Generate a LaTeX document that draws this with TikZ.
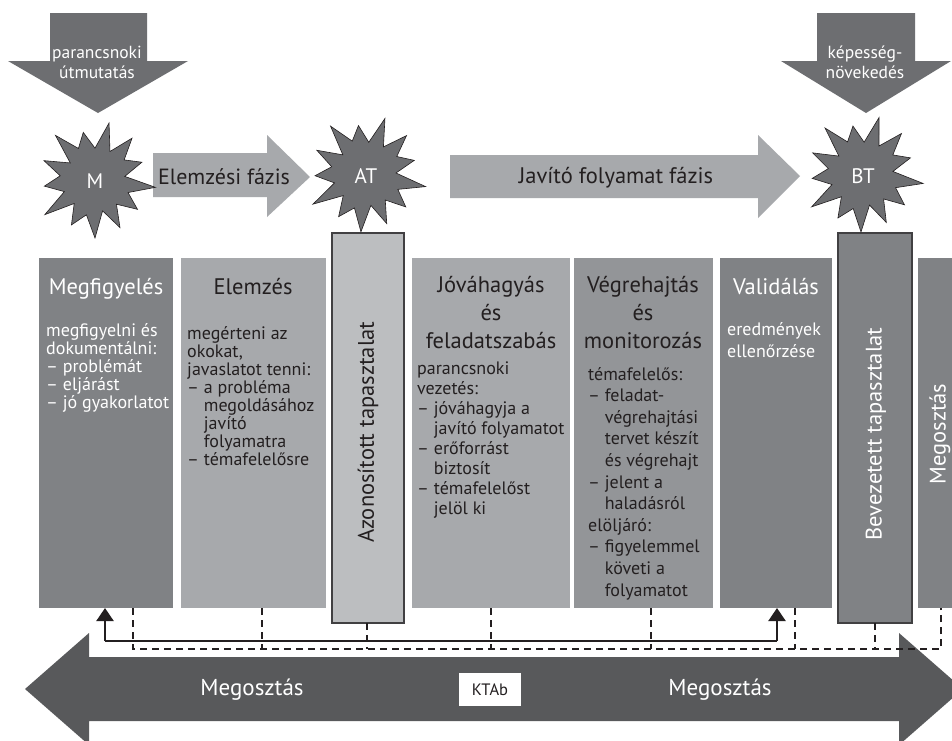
\documentclass[tikz,border=0pt]{standalone}
\usepackage{fontspec}
\setmainfont{PT Sans}
\usetikzlibrary{arrows.meta,calc}
\definecolor{cdark}{HTML}{808285}
\definecolor{clight}{HTML}{A7A9AC}
\definecolor{cpale}{HTML}{BCBEC0}
\definecolor{cmid}{HTML}{939598}
\definecolor{cstar}{HTML}{6D6E71}
\definecolor{cband}{HTML}{58595B}
\definecolor{ink}{HTML}{231F20}
\definecolor{edge}{HTML}{414042}
\begin{document}
\begin{tikzpicture}[x=1pt,y=-1pt,
  colbox/.style={inner sep=0pt,outer sep=0pt,anchor=north west,draw=none},
  tapbox/.style={colbox,draw=edge,line width=1.2pt},
  ctitle/.style={font=\fontsize{22.5}{28}\selectfont,align=center,anchor=north,inner sep=0pt,execute at begin node={\rule{0pt}{18pt}}},
  cbody/.style={font=\fontsize{18}{18}\selectfont,align=left,anchor=north west,inner sep=0pt,execute at begin node={\rule{0pt}{15pt}}},
  rottext/.style={font=\fontsize{22.5}{26}\selectfont,rotate=90,inner sep=0pt},
  startext/.style={font=\fontsize{21}{24}\selectfont,text=white,inner sep=0pt},
  starsty/.style={fill=cstar,draw=ink,line width=0.6pt,line join=miter},
  toptext/.style={font=\fontsize{17.5}{20}\selectfont,text=white,align=center,anchor=north,inner sep=0pt,execute at begin node={\rule{0pt}{14pt}}},
  phasetext/.style={text=ink,inner sep=0pt},
  solidline/.style={draw=ink,line width=2.2pt},
  dashline/.style={draw=ink,line width=2.2pt,dash pattern=on 7pt off 5pt},
  tipsty/.style={-{Triangle[width=17pt,length=13pt]}}
]
\fill[white] (0,0) rectangle (952,740);
\useasboundingbox (0,0) rectangle (952,740);

% top arrows
\fill[cstar] (50,13) -- (147,13) -- (147,61) -- (188,61) -- (98,113) -- (8,61) -- (50,61) -- cycle;
\node[toptext] (pu) at (97,46) {parancsnoki\\útmutatás};
\fill[cstar] (817,13) -- (915,13) -- (915,61) -- (951,61) -- (866,113) -- (781,61) -- (817,61) -- cycle;
\node[toptext] (kn) at (865,46) {képesség-\\növekedés};

% phase arrows
\fill[clight] (153,153) -- (267,153) -- (267,135) -- (310,177) -- (267,217) -- (267,197) -- (153,197) -- cycle;
\node[phasetext,font=\fontsize{22}{24}\selectfont] (ef) at (224,177) {Elemzési fázis};
\fill[clight] (450,155) -- (758,155) -- (758,135) -- (800,176) -- (758,218) -- (758,198) -- (450,198) -- cycle;
\node[phasetext,font=\fontsize{22.5}{24}\selectfont] (jf) at (616,178) {Javító folyamat fázis};

% columns
\node[colbox,fill=cdark,minimum width=134pt,minimum height=350pt] (c1) at (39,258) {};
\node[colbox,fill=clight,minimum width=145pt,minimum height=350pt] (c2) at (181,258) {};
\node[tapbox,fill=cpale,minimum width=72pt,minimum height=390pt] (c3) at (332,233) {};
\node[colbox,fill=clight,minimum width=158pt,minimum height=350pt] (c4) at (412,258) {};
\node[colbox,fill=cmid,minimum width=139pt,minimum height=350pt] (c5) at (574,258) {};
\node[colbox,fill=cdark,minimum width=112pt,minimum height=350pt] (c6) at (720,258) {};
\node[tapbox,fill=cdark,minimum width=74pt,minimum height=390pt] (c7) at (838,233) {};
\node[colbox,fill=cdark,minimum width=50pt,minimum height=350pt] (c8) at (918,258) {};

% column texts
\node[ctitle,text=white] (t1) at (106,276) {Megfigyelés};
\node[cbody,text=white] (b1) at (46,323) {megfigyelni és\\dokumentálni:\\– problémát\\– eljárást\\– jó gyakorlatot};
\node[ctitle,text=ink] (t2) at (253,276) {Elemzés};
\node[cbody,text=ink] (b2) at (187,326) {megérteni az\\okokat,\\javaslatot tenni:\\– a probléma\\\phantom{– }megoldásához\\\phantom{– }javító\\\phantom{– }folyamatra\\– témafelelősre};
\node[rottext,text=ink] (t3) at (368,432) {Azonosított tapasztalat};
\node[ctitle,text=ink] (t4) at (491,276) {Jóváhagyás\\és\\feladatszabás};
\node[cbody,text=ink,font=\fontsize{18}{20}\selectfont] (b4) at (417,362) {parancsnoki\\vezetés:\\– jóváhagyja a\\\phantom{– }javító folyamatot\\– erőforrást\\\phantom{– }biztosít\\– témafelelőst\\\phantom{– }jelöl ki};
\node[ctitle,text=ink] (t5) at (643,276) {Végrehajtás\\és\\monitorozás};
\node[cbody,text=ink,font=\fontsize{18}{21.6}\selectfont] (b5) at (588,367) {témafelelős:\\– feladat-\\\phantom{– }végrehajtási\\\phantom{– }tervet készít\\\phantom{– }és végrehajt\\– jelent a\\\phantom{– }haladásról\\elöljáró:\\– figyelemmel\\\phantom{– }követi a\\\phantom{– }folyamatot};
\node[ctitle,text=white] (t6) at (776,276) {Validálás};
\node[cbody,text=white,font=\fontsize{18}{22}\selectfont] (b6) at (727,322) {eredmények\\ellenőrzése};
\node[rottext,text=white] (t7) at (876,434) {Bevezetett tapasztalat};
\node[rottext,text=white] (t8) at (940,434) {Megosztás};

% stars
\foreach \cx/\cy/\ph in {95/180/90, 366/174/95, 863/174/92}{
  \begin{scope}[shift={(\cx,\cy)}]
    \filldraw[starsty] (\ph:58) \foreach \k [evaluate=\k as \r using {mod(\k,2)==0 ? 55+6*sin(\k*113) : 33+3*sin(\k*71)}] in {1,...,25} { -- ({\ph+\k*360/26}:\r) } -- cycle;
  \end{scope}
}
\node[startext] (M) at (95,181) {M};
\node[startext] (AT) at (366,176) {AT};
\node[startext] (BT) at (863,176) {BT};

% bottom double arrow
\fill[cband] (25,689) -- (89,633) -- (89,657) -- (899,657) -- (899,633) -- (963,689) -- (899,745) -- (899,721) -- (89,721) -- (89,745) -- cycle;
\node[font=\fontsize{23}{26}\selectfont,text=white] (m1) at (252,690) {Megosztás};
\node[font=\fontsize{23}{26}\selectfont,text=white] (m2) at (720,690) {Megosztás};
\node[fill=white,minimum width=62pt,minimum height=33pt,inner sep=0pt,font=\fontsize{16.5}{18}\selectfont,text=ink] (kt) at (490,689.5) {KTAb};

% connectors
\coordinate (L1) at (105,641);
\coordinate (L2) at (777,641);
\foreach \c/\x [count=\i] in {c1/133, c2/262, c3/367, c4/491, c5/651, c6/795, c7/875, c8/941}{
  \coordinate (D\i) at (\x,649);
}
\draw[dashline] (c1.south -| D1) -- (D1) -- (D8) -- (c8.south -| D8);
\foreach \c/\i in {c2/2, c3/3, c4/4, c5/5, c6/6, c7/7}{
  \draw[dashline] (\c.south -| D\i) -- (D\i);
}
\draw[solidline] (L1) -- (L2);
\draw[solidline,tipsty] (L1) -- (L1 |- c1.south);
\draw[solidline,tipsty] (L2) -- (L2 |- c6.south);
\end{tikzpicture}
\end{document}
